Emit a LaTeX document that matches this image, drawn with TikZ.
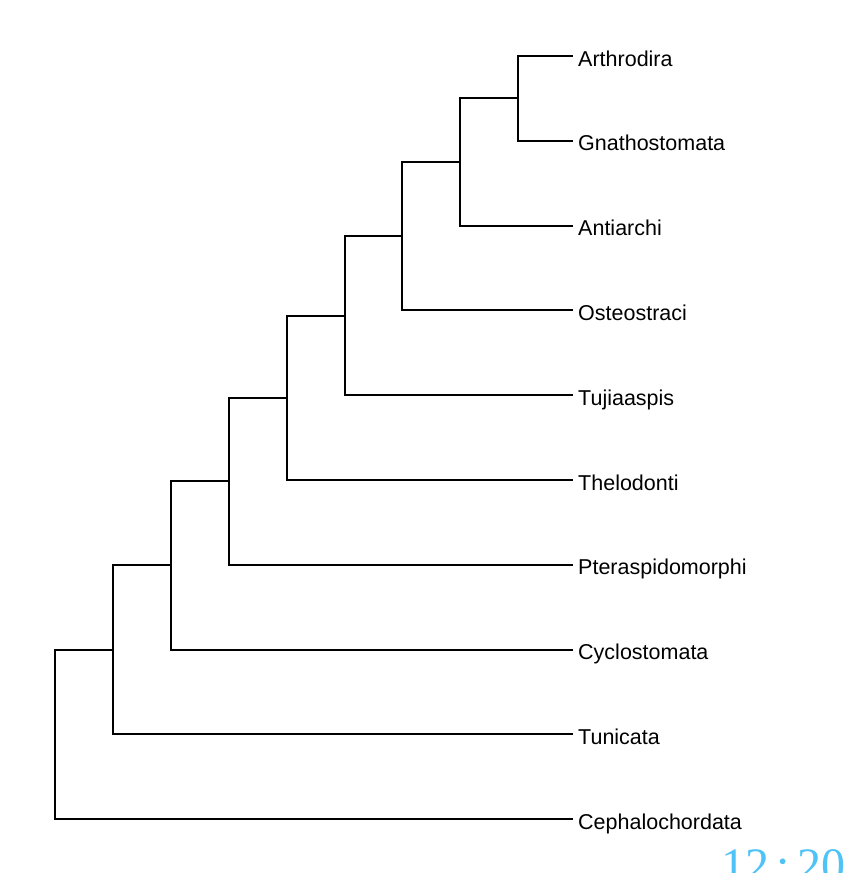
\documentclass[tikz,border=0pt]{standalone}
\usepackage{fontspec}
\setmainfont{Liberation Sans}
\newfontfamily\clockfont{Liberation Serif}
\definecolor{clockblue}{RGB}{79,195,247}
\begin{document}
\begin{tikzpicture}[x=1pt,y=-1pt,
  branch/.style={line width=2pt,line cap=rect},
  leaf/.style={anchor=base west,inner sep=0pt,font=\fontsize{21.5}{24}\selectfont},
  clock/.style={anchor=base west,inner sep=0pt,text=clockblue,font=\clockfont\fontsize{48}{52}\selectfont}]
\clip (0,0) rectangle (845,873);
\useasboundingbox (0,0) rectangle (845,873);
\fill[white] (0,0) rectangle (845,873);
% leaf tips
\def\tipx{572}
\foreach \n/\k in {a/0,b/1,c/2,d/3,e/4,f/5,g/6,h/7,i/8,j/9}{
  \coordinate (t\n) at (\tipx,{56+84.8*\k});
}
% internal node heights: midpoint of child clade and leaf
\pgfmathsetmacro{\yA}{(56+140.8)/2}
\pgfmathsetmacro{\yB}{(\yA+225.6)/2}
\pgfmathsetmacro{\yC}{(\yB+310.4)/2}
\pgfmathsetmacro{\yD}{(\yC+395.2)/2}
\pgfmathsetmacro{\yE}{(\yD+480)/2}
\pgfmathsetmacro{\yF}{(\yE+564.8)/2}
\pgfmathsetmacro{\yG}{(\yF+649.6)/2}
\pgfmathsetmacro{\yH}{(\yG+734.4)/2}
\pgfmathsetmacro{\yI}{(\yH+819.2)/2}
\coordinate (n8) at (518.2,\yA);
\coordinate (n7) at (460.3,\yB);
\coordinate (n6) at (402.4,\yC);
\coordinate (n5) at (344.5,\yD);
\coordinate (n4) at (286.6,\yE);
\coordinate (n3) at (228.7,\yF);
\coordinate (n2) at (170.8,\yG);
\coordinate (n1) at (112.9,\yH);
\coordinate (n0) at (55,\yI);
% branches
\draw[branch] (ta) -| (n8) |- (tb);
\draw[branch] (n8) -| (n7) |- (tc);
\draw[branch] (n7) -| (n6) |- (td);
\draw[branch] (n6) -| (n5) |- (te);
\draw[branch] (n5) -| (n4) |- (tf);
\draw[branch] (n4) -| (n3) |- (tg);
\draw[branch] (n3) -| (n2) |- (th);
\draw[branch] (n2) -| (n1) |- (ti);
\draw[branch] (n1) -| (n0) |- (tj);
% labels
\foreach \n/\lab in {a/Arthrodira,b/Gnathostomata,c/Antiarchi,d/Osteostraci,e/Tujiaaspis,f/Thelodonti,g/Pteraspidomorphi,h/Cyclostomata,i/Tunicata,j/Cephalochordata}{
  \node[leaf] (l\n) at ([xshift=6pt,yshift=-10pt]t\n) {\lab};
}
\node[clock] (clk) at (721,881) {12\hspace{0.16em}:\hspace{0.16em}20};
\end{tikzpicture}
\end{document}
